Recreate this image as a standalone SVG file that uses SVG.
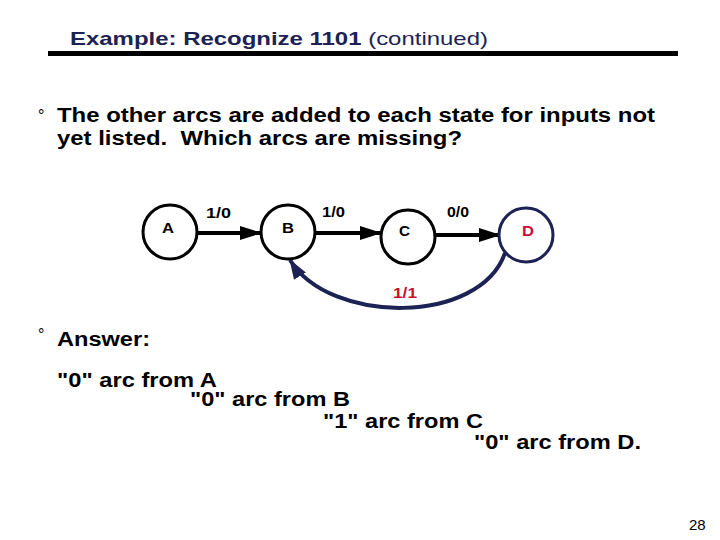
<svg xmlns="http://www.w3.org/2000/svg" width="720" height="540" viewBox="0 0 720 540">
<defs>
<style>
.t{font-family:"Liberation Sans",Arial,sans-serif;font-weight:bold;white-space:pre}
.st{fill:#fff;stroke:#000;stroke-width:3}
.sl{font-family:"Liberation Sans",Arial,sans-serif;font-weight:bold;font-size:15px}
.el{font-family:"Liberation Sans",Arial,sans-serif;font-weight:bold;font-size:14px}
.ed{stroke:#000;stroke-width:4;fill:none}
</style>
<marker id="ah" viewBox="0 0 22 14" refX="21" refY="7" markerWidth="22" markerHeight="14" orient="auto" markerUnits="userSpaceOnUse">
<path d="M0,0 L22,7 L0,14 z" fill="#000"/>
</marker>
<marker id="ahn" viewBox="0 0 20 14" refX="19" refY="7" markerWidth="20" markerHeight="14" orient="auto" markerUnits="userSpaceOnUse">
<path d="M0,0 L20,7 L0,14 z" fill="#1c2354"/>
</marker>
</defs>
<rect width="720" height="540" fill="#fff"/>
<g id="title">
<text class="t" x="70" y="45" font-size="19" fill="#1c2354" textLength="418" lengthAdjust="spacingAndGlyphs">Example: Recognize 1101<tspan font-weight="normal"> (continued)</tspan></text>
<rect x="48" y="51" width="630" height="5" fill="#000"/>
</g>
<g id="question">
<text x="38" y="121" font-family="Liberation Sans, Arial, sans-serif" font-size="16">°</text>
<text class="t" x="57" y="122" font-size="20" textLength="598" lengthAdjust="spacingAndGlyphs">The other arcs are added to each state for inputs not</text>
<text class="t" x="57" y="145" font-size="20" textLength="405" lengthAdjust="spacingAndGlyphs">yet listed.  Which arcs are missing?</text>
</g>
<g id="connectors">
<line class="ed" x1="197" y1="233" x2="261" y2="233" marker-end="url(#ah)"/>
<line class="ed" x1="315" y1="233" x2="381" y2="233" marker-end="url(#ah)"/>
<line class="ed" x1="435" y1="235" x2="500" y2="235" marker-end="url(#ah)"/>
<path d="M505,253 C480,325 330,325 290,260" stroke="#1c2354" stroke-width="4" fill="none" marker-end="url(#ahn)"/>
<text class="el" x="206" y="218" textLength="25" lengthAdjust="spacingAndGlyphs">1/0</text>
<text class="el" x="322" y="217" textLength="23" lengthAdjust="spacingAndGlyphs">1/0</text>
<text class="el" x="447" y="217" textLength="22" lengthAdjust="spacingAndGlyphs">0/0</text>
<text class="el" x="393" y="298" fill="#c8102e" textLength="24" lengthAdjust="spacingAndGlyphs">1/1</text>
</g>
<g id="A"><circle class="st" cx="170" cy="232" r="27"/><text class="sl" x="162" y="233" textLength="12" lengthAdjust="spacingAndGlyphs">A</text></g>
<g id="B"><circle class="st" cx="288" cy="232" r="27"/><text class="sl" x="282" y="233" textLength="12" lengthAdjust="spacingAndGlyphs">B</text></g>
<g id="C"><circle class="st" cx="408" cy="237" r="27"/><text class="sl" x="399" y="236" textLength="11" lengthAdjust="spacingAndGlyphs">C</text></g>
<g id="D"><circle cx="526" cy="235" r="27" fill="#fff" stroke="#1c2354" stroke-width="3"/><text class="sl" x="522" y="236" fill="#c8102e" textLength="12" lengthAdjust="spacingAndGlyphs">D</text></g>
<g id="answer">
<text x="38" y="340" font-family="Liberation Sans, Arial, sans-serif" font-size="16">°</text>
<text class="t" x="57" y="346" font-size="20" textLength="93" lengthAdjust="spacingAndGlyphs">Answer:</text>
<text class="t" x="57" y="387" font-size="20" textLength="160" lengthAdjust="spacingAndGlyphs">"0" arc from A</text>
<text class="t" x="190" y="406" font-size="20" textLength="160" lengthAdjust="spacingAndGlyphs">"0" arc from B</text>
<text class="t" x="323" y="428" font-size="20" textLength="160" lengthAdjust="spacingAndGlyphs">"1" arc from C</text>
<text class="t" x="474" y="449" font-size="20" textLength="167" lengthAdjust="spacingAndGlyphs">"0" arc from D.</text>
</g>
<text x="689" y="530" font-family="Liberation Sans, Arial, sans-serif" font-size="15">28</text>
</svg>
